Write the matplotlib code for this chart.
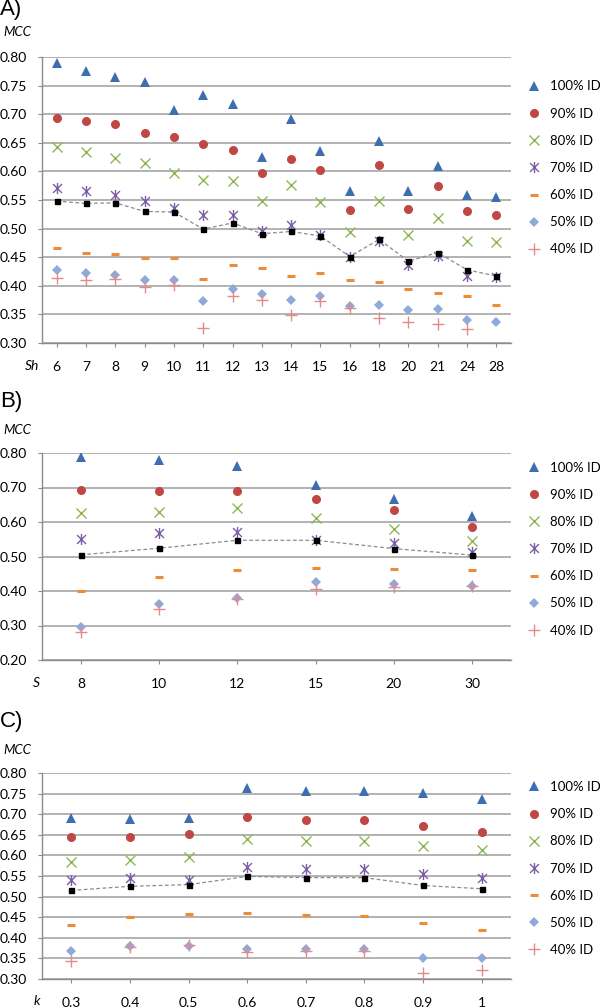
import numpy as np
import matplotlib
matplotlib.use("Agg")
import matplotlib.pyplot as plt
from matplotlib.path import Path

# === Data ===
series_names = ["100% ID", "90% ID", "80% ID", "70% ID", "60% ID", "50% ID", "40% ID"]

# Panel A: MCC vs Sh
sh_labels = ["6", "7", "8", "9", "10", "11", "12", "13", "14", "15", "16", "18", "20", "21", "24", "28"]
a_id100 = [0.790, 0.775, 0.765, 0.757, 0.707, 0.733, 0.717, 0.626, 0.692, 0.636, 0.566, 0.654, 0.565, 0.609, 0.559, 0.555]
a_id90 = [0.693, 0.688, 0.682, 0.667, 0.660, 0.648, 0.637, 0.597, 0.622, 0.602, 0.533, 0.612, 0.534, 0.574, 0.531, 0.523]
a_id80 = [0.642, 0.634, 0.624, 0.615, 0.598, 0.585, 0.584, 0.549, 0.577, 0.547, 0.494, 0.549, 0.488, 0.518, 0.479, 0.476]
a_id70 = [0.571, 0.566, 0.559, 0.549, 0.536, 0.524, 0.524, 0.495, 0.506, 0.488, 0.450, 0.478, 0.436, 0.452, 0.418, 0.415]
a_id60 = [0.466, 0.458, 0.455, 0.449, 0.449, 0.412, 0.436, 0.431, 0.417, 0.423, 0.411, 0.406, 0.395, 0.388, 0.382, 0.367]
a_id50 = [0.427, 0.423, 0.419, 0.411, 0.411, 0.373, 0.394, 0.386, 0.376, 0.382, 0.365, 0.367, 0.357, 0.360, 0.340, 0.336]
a_id40 = [0.414, 0.410, 0.412, 0.398, 0.401, 0.326, 0.383, 0.375, 0.349, 0.373, 0.361, 0.344, 0.337, 0.333, 0.324, np.nan]
a_avg = [0.548, 0.544, 0.545, 0.530, 0.529, 0.499, 0.510, 0.491, 0.495, 0.487, 0.451, 0.481, 0.443, 0.458, 0.428, 0.417]

# Panel B: MCC vs S
s_labels = ["8", "10", "12", "15", "20", "30"]
b_id100 = [0.788, 0.779, 0.763, 0.707, 0.667, 0.617]
b_id90 = [0.692, 0.690, 0.690, 0.667, 0.636, 0.585]
b_id80 = [0.625, 0.629, 0.640, 0.613, 0.580, 0.544]
b_id70 = [0.550, 0.567, 0.571, 0.547, 0.538, 0.514]
b_id60 = [0.400, 0.440, 0.460, 0.466, 0.463, 0.461]
b_id50 = [0.297, 0.362, 0.379, 0.427, 0.421, 0.415]
b_id40 = [0.281, 0.348, 0.377, 0.406, 0.412, 0.414]
b_avg = [0.505, 0.524, 0.547, 0.547, 0.523, 0.504]

# Panel C: MCC vs k
k_labels = ["0.3", "0.4", "0.5", "0.6", "0.7", "0.8", "0.9", "1"]
c_id100 = [0.691, 0.688, 0.691, 0.764, 0.756, 0.756, 0.751, 0.736]
c_id90 = [0.645, 0.645, 0.653, 0.692, 0.686, 0.685, 0.672, 0.658]
c_id80 = [0.584, 0.590, 0.597, 0.641, 0.635, 0.636, 0.622, 0.613]
c_id70 = [0.541, 0.544, 0.540, 0.572, 0.568, 0.568, 0.556, 0.546]
c_id60 = [0.431, 0.450, 0.458, 0.461, 0.455, 0.454, 0.435, 0.418]
c_id50 = [0.367, 0.380, 0.380, 0.374, 0.374, 0.374, 0.350, 0.350]
c_id40 = [0.344, 0.377, 0.382, 0.366, 0.369, 0.367, 0.315, 0.322]
c_avg = [0.515, 0.525, 0.529, 0.549, 0.546, 0.546, 0.527, 0.519]

# === Styles ===
TXT = "Lato"
asterisk = Path([(-1, -1), (1, 1), (-1, 1), (1, -1), (0, -1.25), (0, 1.25)],
                [Path.MOVETO, Path.LINETO, Path.MOVETO, Path.LINETO, Path.MOVETO, Path.LINETO])
styles = [
    dict(marker="^", color="#3d6fb0", ms=6.5, mew=0),
    dict(marker="o", color="#bf4744", ms=6.5, mew=0),
    dict(marker="x", color="#8fb550", ms=7.5, mew=1.0),
    dict(marker=asterisk, color="#7b5ea5", ms=8, mew=1.0),
    dict(marker="_", color="#ef8a36", ms=6, mew=2.2),
    dict(marker="D", color="#8eaadb", ms=5, mew=0),
    dict(marker="+", color="#e58a8a", ms=8, mew=1.0),
]


def draw_panel(fig, rect, labels, series, avg, ylim, ystep, xname, letter, leg_y,
               letter_y, mcc_y, xname_y):
    ax = fig.add_axes(rect)
    x = np.arange(len(labels))
    for vals, name, st in zip(series, series_names, styles):
        ax.plot(x, vals, linestyle="none", label=name, zorder=3, **st)
    ax.plot(x, avg, linestyle=(0, (3, 2)), color="#8c8c8c", lw=0.9,
            marker="s", ms=3.6, mfc="black", mec="black", zorder=4)

    ax.set_xlim(-0.5, len(labels) - 0.5)
    ax.set_ylim(*ylim)
    ax.set_yticks(np.arange(ylim[0], ylim[1] + 1e-9, ystep))
    ax.yaxis.set_major_formatter(plt.FormatStrFormatter("%.2f"))
    ax.set_xticks(x)
    ax.set_xticklabels(labels)
    ax.grid(axis="y", color="#a6a6a6", lw=1.2)
    ax.set_axisbelow(True)
    for side in ["top", "right"]:
        ax.spines[side].set_visible(False)
    for side in ["left", "bottom"]:
        ax.spines[side].set_color("#8c8c8c")
        ax.spines[side].set_linewidth(1.0)
    ax.tick_params(axis="y", length=3, color="#8c8c8c", pad=8, labelsize=10)
    ax.tick_params(axis="x", length=3, color="#8c8c8c", pad=10, labelsize=10)
    for t in ax.get_xticklabels() + ax.get_yticklabels():
        t.set_fontfamily(TXT)

    ax.legend(loc="center left", bbox_to_anchor=(1.034, leg_y), frameon=False,
              borderpad=0, borderaxespad=0, handlelength=1.0, handletextpad=0.75,
              labelspacing=1.15, prop={"family": TXT, "size": 9.5})

    H = 1008.0
    fig.text(0.0, 1 - letter_y / H, letter, fontsize=16, family="Liberation Sans", va="center")
    fig.text(3 / 600, 1 - mcc_y / H, "MCC", fontsize=9.5, family=TXT, style="italic", va="center")
    fig.text(xname[1] / 600, 1 - xname_y / H, xname[0], fontsize=10, family=TXT,
             style="italic", va="center", ha="center")
    return ax


# === Main program ===
if __name__ == "__main__":
    fig = plt.figure(figsize=(6, 10.08), dpi=100)
    W, H = 600.0, 1008.0

    def rect(top, bottom):
        return [42 / W, 1 - bottom / H, 469 / W, (bottom - top) / H]

    draw_panel(fig, rect(57, 343), sh_labels,
               [a_id100, a_id90, a_id80, a_id70, a_id60, a_id50, a_id40], a_avg,
               (0.30, 0.80), 0.05, ("Sh", 32), "A)", 0.612, 10, 32, 366)
    draw_panel(fig, rect(453, 660), s_labels,
               [b_id100, b_id90, b_id80, b_id70, b_id60, b_id50, b_id40], b_avg,
               (0.20, 0.80), 0.10, ("S", 36), "B)", 0.536, 402, 430, 683)
    draw_panel(fig, rect(773, 979), k_labels,
               [c_id100, c_id90, c_id80, c_id70, c_id60, c_id50, c_id40], c_avg,
               (0.30, 0.80), 0.05, ("k", 37), "C)", 0.536, 722, 750, 1001)

    fig.savefig("out.png", dpi=100)
